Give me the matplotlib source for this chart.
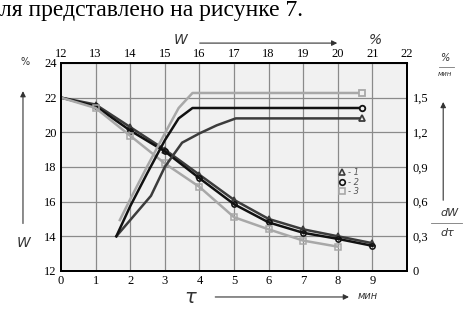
import matplotlib.pyplot as plt
from matplotlib.lines import Line2D

# время, мин
t = [0, 1, 2, 3, 4, 5, 6, 7, 8, 9]
t3 = [0, 1, 2, 3, 4, 5, 6, 7, 8]

# влажность W, %
w1 = [22.0, 21.6, 20.3, 19.0, 17.55, 16.1, 15.0, 14.4, 14.0, 13.6]
w2 = [22.0, 21.5, 20.1, 18.9, 17.35, 15.85, 14.8, 14.2, 13.85, 13.45]
w3 = [22.0, 21.4, 19.8, 18.2, 16.85, 15.1, 14.4, 13.75, 13.4]

# скорость сушки dW/dτ, %/мин (по времени)
rt1 = [1.6, 2.0, 2.6, 3.0, 3.5, 4.0, 4.5, 5.05, 8.7]
r1 = [0.30, 0.44, 0.65, 0.90, 1.11, 1.19, 1.26, 1.32, 1.32]
rt2 = [1.6, 2.0, 2.5, 3.0, 3.4, 3.8, 8.7]
r2 = [0.30, 0.56, 0.85, 1.13, 1.32, 1.41, 1.41]
rt3 = [1.7, 2.0, 2.5, 3.0, 3.4, 3.8, 8.7]
r3 = [0.44, 0.62, 0.91, 1.19, 1.41, 1.54, 1.54]

colors = ['#3c3c3c', '#111111', '#a8a8a8']
markers = ['^', 'o', 's']
serif = 'Liberation Serif'
bg = '#f1f1f1'

fig = plt.figure(figsize=(4.69, 3.10), dpi=100)
ax = fig.add_axes([0.130, 0.126, 0.738, 0.671])
ax.set_facecolor(bg)
ax.set_xlim(0, 10)
ax.set_ylim(12, 24)

# сетка
for x in range(1, 10):
    ax.axvline(x, color='#8a8a8a', lw=0.9, zorder=1)
for y in range(14, 24, 2):
    ax.axhline(y, color='#8a8a8a', lw=0.9, zorder=1)

ax.set_xticks(range(0, 10))
ax.set_xticklabels([str(i) for i in range(0, 10)], fontfamily=serif, fontsize=9)
ax.set_yticks(range(12, 25, 2))
ax.set_yticklabels([str(i) for i in range(12, 25, 2)], fontfamily=serif, fontsize=9)
ax.tick_params(length=0, pad=3)
for s in ax.spines.values():
    s.set_linewidth(1.4)

# верхняя ось
top = ax.secondary_xaxis('top', functions=(lambda v: v + 12, lambda v: v - 12))
top.set_xticks(range(12, 23))
top.set_xticklabels([str(i) for i in range(12, 23)], fontfamily=serif, fontsize=9)
top.tick_params(length=0, pad=2)

# правая ось
ax2 = ax.twinx()
ax2.set_ylim(0, 1.8)
ax2.set_yticks([0, 0.3, 0.6, 0.9, 1.2, 1.5])
ax2.set_yticklabels(['0', '0,3', '0,6', '0,9', '1,2', '1,5'], fontfamily=serif, fontsize=9)
ax2.tick_params(length=0, pad=4)
for s in ax2.spines.values():
    s.set_linewidth(1.4)

# кривые скорости сушки
for rt, r, c, m in zip([rt1, rt2, rt3], [r1, r2, r3], colors, markers):
    ax2.plot(rt, r, color=c, lw=1.8, zorder=2)
    ax2.plot(rt[-1], r[-1], marker=m, ms=4, mew=1.3, color=c, mfc=bg, zorder=3)

# кривые сушки
for tt, w, c, m in zip([t, t, t3], [w1, w2, w3], colors, markers):
    ax.plot(tt, w, color=c, lw=1.8, marker=m, ms=3.8, mew=1.1, mfc='none',
            markevery=list(range(1, len(tt))), zorder=3)

handles = [Line2D([], [], ls='none', marker=m, ms=4, mew=1.2, color=c, mfc=bg)
           for m, c in zip(markers, colors)]
ax.legend(handles, ['- 1', '- 2', '- 3'], loc='upper left', bbox_to_anchor=(0.78, 0.53),
          frameon=False, handlelength=0.8, handletextpad=0.3, labelspacing=0.05,
          prop={'size': 6, 'style': 'italic'}, labelcolor='#555555')

# подписи осей и стрелки
arrow = dict(arrowstyle='-|>', color='#333333', lw=0.8, mutation_scale=8)
fig.text(0.385, 0.87, 'W', fontsize=10, style='italic', ha='center', va='center', color='#333333')
fig.add_artist(plt.Annotation('', xy=(0.725, 0.861), xytext=(0.42, 0.861),
                              xycoords='figure fraction', arrowprops=arrow))
fig.text(0.80, 0.87, '%', fontsize=10, style='italic', ha='center', va='center', color='#333333')

fig.text(0.053, 0.80, '%', fontsize=7, ha='center', va='center', color='#333333')
fig.add_artist(plt.Annotation('', xy=(0.049, 0.715), xytext=(0.049, 0.27),
                              xycoords='figure fraction', arrowprops=arrow))
fig.text(0.050, 0.215, 'W', fontsize=10, style='italic', ha='center', va='center', color='#333333')

fig.text(0.405, 0.04, 'τ', fontsize=14, style='italic', ha='center', va='center', color='#333333')
fig.add_artist(plt.Annotation('', xy=(0.75, 0.042), xytext=(0.453, 0.042),
                              xycoords='figure fraction', arrowprops=arrow))
fig.text(0.783, 0.045, 'мин', fontsize=7, style='italic', ha='center', va='center', color='#333333')

fig.text(0.949, 0.812, '%', fontsize=7, style='italic', ha='center', va='center', color='#333333')
fig.add_artist(Line2D([0.935, 0.968], [0.784, 0.784], transform=fig.transFigure, color='#777777', lw=0.6))
fig.text(0.949, 0.762, 'мин', fontsize=5, style='italic', ha='center', va='center', color='#333333')
fig.add_artist(plt.Annotation('', xy=(0.945, 0.68), xytext=(0.945, 0.345),
                              xycoords='figure fraction', arrowprops=arrow))
fig.text(0.958, 0.313, 'dW', fontsize=8, style='italic', ha='center', va='center', color='#333333')
fig.add_artist(Line2D([0.92, 0.985], [0.28, 0.28], transform=fig.transFigure, color='#777777', lw=0.6))
fig.text(0.953, 0.248, 'dτ', fontsize=8, style='italic', ha='center', va='center', color='#333333')

fig.text(0.0, 1.0, 'ля представлено на рисунке 7.', fontsize=17, fontfamily=serif,
         ha='left', va='top')

fig.savefig('out.png', dpi=100)
